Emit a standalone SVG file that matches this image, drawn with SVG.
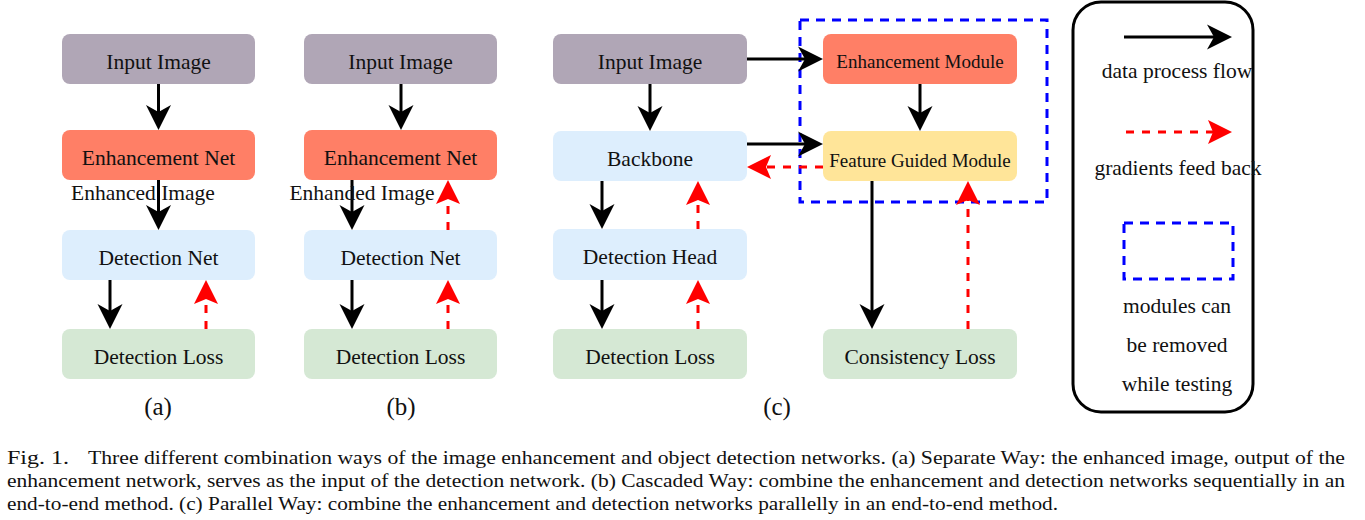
<svg xmlns="http://www.w3.org/2000/svg" width="1365" height="520" viewBox="0 0 1365 520">
<defs>
<style>
.box{stroke:none}
.t{font-family:"Liberation Serif","Times New Roman",serif;font-size:21.5px;fill:#111;text-anchor:middle}
.ts{font-family:"Liberation Serif","Times New Roman",serif;font-size:19px;fill:#111;text-anchor:middle}
.lab{font-family:"Liberation Serif","Times New Roman",serif;font-size:25px;fill:#111;text-anchor:middle}
.cap{font-family:"Liberation Serif","Times New Roman",serif;font-size:19px;fill:#111}
.flow{fill:none;stroke:#000;stroke-width:3;marker-end:url(#ab)}
.grad{fill:none;stroke:#f00;stroke-width:3;stroke-dasharray:8 8;marker-end:url(#ar)}
.rm{fill:none;stroke:#00f;stroke-width:3;stroke-dasharray:9 7}
</style>
<marker id="ab" markerUnits="userSpaceOnUse" viewBox="-16 -13 27 26" refX="0" refY="0" markerWidth="27" markerHeight="26" orient="auto">
<path d="M10,0 L-15,-12.5 L-8,0 L-15,12.5 Z" fill="#000"/>
</marker>
<marker id="ar" markerUnits="userSpaceOnUse" viewBox="-16 -13 27 26" refX="0" refY="0" markerWidth="27" markerHeight="26" orient="auto">
<path d="M10,0 L-14,-12 L-9,0 L-14,12 Z" fill="#f00"/>
</marker>
</defs>
<rect width="1365" height="520" fill="#fff"/>

<!-- (a) -->
<g id="a-input"><rect class="box" x="62" y="34" width="193" height="50" rx="8" fill="#B0A6B6"/><text class="t" x="158.5" y="68.5">Input Image</text></g>
<g id="a-enh"><rect class="box" x="62" y="130" width="193" height="50" rx="8" fill="#FF7F66"/><text class="t" x="158.5" y="164.5">Enhancement Net</text></g>
<g id="a-det"><rect class="box" x="62" y="230" width="193" height="50" rx="8" fill="#DDEEFD"/><text class="t" x="158.5" y="264.5">Detection Net</text></g>
<g id="a-loss"><rect class="box" x="62" y="329" width="193" height="50" rx="8" fill="#D5E8D4"/><text class="t" x="158.5" y="363.5">Detection Loss</text></g>

<!-- (b) -->
<g id="b-input"><rect class="box" x="304" y="34" width="193" height="50" rx="8" fill="#B0A6B6"/><text class="t" x="400.5" y="68.5">Input Image</text></g>
<g id="b-enh"><rect class="box" x="304" y="130" width="193" height="50" rx="8" fill="#FF7F66"/><text class="t" x="400.5" y="164.5">Enhancement Net</text></g>
<g id="b-det"><rect class="box" x="304" y="230" width="193" height="50" rx="8" fill="#DDEEFD"/><text class="t" x="400.5" y="264.5">Detection Net</text></g>
<g id="b-loss"><rect class="box" x="304" y="329" width="193" height="50" rx="8" fill="#D5E8D4"/><text class="t" x="400.5" y="363.5">Detection Loss</text></g>

<!-- (c) -->
<g id="c-input"><rect class="box" x="553" y="34" width="194" height="50" rx="8" fill="#B0A6B6"/><text class="t" x="650" y="68.5">Input Image</text></g>
<g id="c-backbone"><rect class="box" x="553" y="131" width="194" height="50" rx="8" fill="#DDEEFD"/><text class="t" x="650" y="165.5">Backbone</text></g>
<g id="c-head"><rect class="box" x="553" y="229" width="194" height="51" rx="8" fill="#DDEEFD"/><text class="t" x="650" y="264">Detection Head</text></g>
<g id="c-loss"><rect class="box" x="553" y="329" width="194" height="50" rx="8" fill="#D5E8D4"/><text class="t" x="650" y="363.5">Detection Loss</text></g>
<g id="c-enhmod"><rect class="box" x="823" y="34" width="194" height="50" rx="8" fill="#FF7F66"/><text class="ts" x="920" y="68">Enhancement Module</text></g>
<g id="c-fgm"><rect class="box" x="823" y="131" width="194" height="50" rx="8" fill="#FFE599"/><text class="ts" x="920" y="166.5">Feature Guided Module</text></g>
<g id="c-cons"><rect class="box" x="823" y="329" width="194" height="50" rx="8" fill="#D5E8D4"/><text class="t" x="920" y="363.5">Consistency Loss</text></g>
<g id="c-removable"><rect class="rm" x="800" y="20" width="247" height="182"/></g>

<!-- sub labels -->
<g id="labels">
<text class="lab" x="158" y="415">(a)</text>
<text class="lab" x="401" y="415">(b)</text>
<text class="lab" x="777" y="415">(c)</text>
</g>

<!-- connectors -->
<g id="connectors">
<path class="flow" d="M158.5,84 V120"/>
<path class="flow" d="M158.5,180 V220"/>
<path class="flow" d="M110,280 V319"/>
<path class="grad" d="M206,329 V290"/>
<text class="t" x="143" y="200">Enhanced Image</text>

<path class="flow" d="M401,84 V120"/>
<path class="flow" d="M352,180 V220"/>
<path class="grad" d="M448,230 V190"/>
<path class="flow" d="M352,280 V319"/>
<path class="grad" d="M448,329 V290"/>
<text class="t" x="362" y="200">Enhanded Image</text>

<path class="flow" d="M650,84 V121"/>
<path class="flow" d="M747,59 H813"/>
<path class="flow" d="M747,144 H813"/>
<path class="grad" d="M823,167 H757"/>
<path class="flow" d="M920,84 V121"/>
<path class="flow" d="M602,181 V219"/>
<path class="grad" d="M698,229 V191"/>
<path class="flow" d="M602,280 V319"/>
<path class="grad" d="M698,329 V290"/>
<path class="flow" d="M872,181 V319"/>
<path class="grad" d="M968,329 V191"/>
</g>

<!-- legend -->
<g id="legend">
<rect x="1073" y="2" width="180" height="410" rx="28" fill="none" stroke="#000" stroke-width="3"/>
<path class="flow" d="M1124,37 H1222"/>
<text class="t" x="1177" y="78">data process flow</text>
<path class="grad" d="M1126,132 H1222"/>
<text class="t" x="1178" y="175">gradients feed back</text>
<rect class="rm" x="1124" y="223" width="109" height="56"/>
<text class="t" x="1177" y="313">modules can</text>
<text class="t" x="1177" y="352">be removed</text>
<text class="t" x="1177" y="391">while testing</text>
</g>

<!-- caption -->
<g id="caption">
<text class="cap" x="7" y="464" textLength="62" lengthAdjust="spacingAndGlyphs">Fig. 1.</text>
<text class="cap" x="88" y="464" textLength="1257" lengthAdjust="spacingAndGlyphs">Three different combination ways of the image enhancement and object detection networks. (a) Separate Way: the enhanced image, output of the</text>
<text class="cap" x="7" y="487" textLength="1338" lengthAdjust="spacingAndGlyphs">enhancement network, serves as the input of the detection network. (b) Cascaded Way: combine the enhancement and detection networks sequentially in an</text>
<text class="cap" x="7" y="510" textLength="1051" lengthAdjust="spacingAndGlyphs">end-to-end method. (c) Parallel Way: combine the enhancement and detection networks parallelly in an end-to-end method.</text>
</g>
</svg>
